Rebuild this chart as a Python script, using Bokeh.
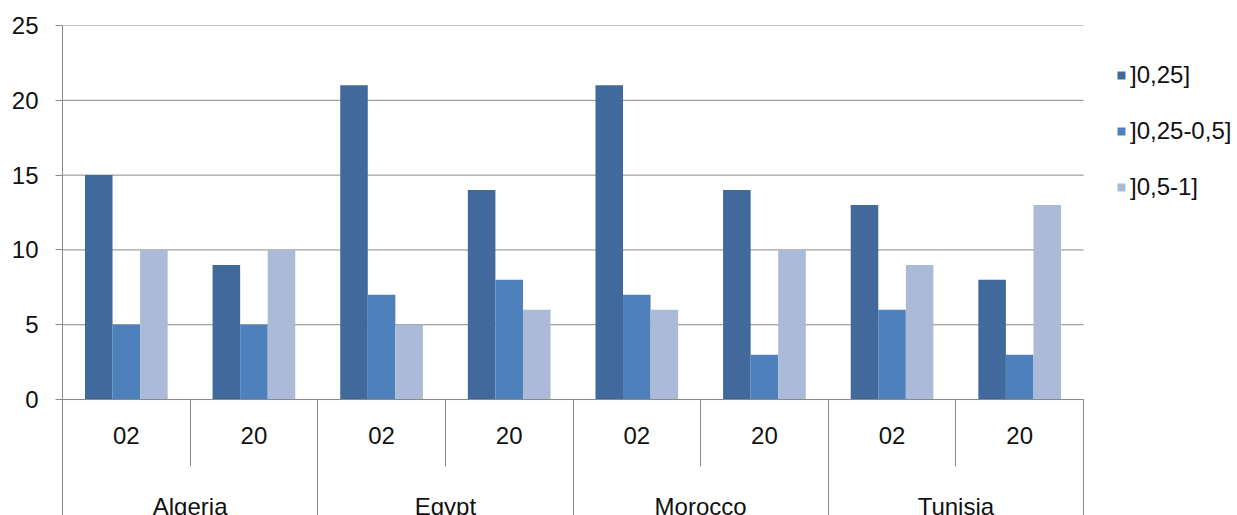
import numpy as np
from bokeh.plotting import figure
from bokeh.models import (Range1d, LinearAxis, FixedTicker, Legend, LegendItem,
                          ColumnDataSource)
from bokeh.embed import file_html
from bokeh.resources import INLINE

# ---- data ----
countries = ["Algeria", "Egypt", "Morocco", "Tunisia"]
years = ["02", "20"]
series_names = ["]0,25]", "]0,25-0,5]", "]0,5-1]"]
s_low = [15, 9, 21, 14, 21, 14, 13, 8]
s_mid = [5, 5, 7, 8, 7, 3, 6, 3]
s_high = [10, 10, 5, 6, 6, 10, 9, 13]
y_ticks = [0, 5, 10, 15, 20, 25]
colors = ["#41699B", "#4E80BC", "#AABAD7"]

FONT = "Liberation Sans"
FS = "24px"
TXT = "#111111"
GRID = "#8A8A8A"

W, H = 1237, 515
LEFT, TOP = 62, 25
PLOT_RIGHT = 1083  # where the category area ends; the rest holds the legend

n_years = len(years)
n = len(countries) * n_years
xs = np.arange(n) + 0.5
year_labels = [years[i % n_years] for i in range(n)]
country_pos = [i * n_years + n_years / 2 for i in range(len(countries))]
year_bounds = [i * n_years + 1 for i in range(len(countries))]
country_bounds = [i * n_years for i in range(len(countries) + 1)]

bw = 0.216
offsets = [-bw, 0.0, bw]

x_end = n * (W - LEFT) / (PLOT_RIGHT - LEFT)

p = figure(width=W, height=H, x_range=Range1d(0, x_end), y_range=Range1d(-7.75, 25),
           output_backend="svg", toolbar_location=None,
           x_axis_type=None, y_axis_type=None,
           min_border_left=LEFT, min_border_right=0, min_border_top=TOP, min_border_bottom=0)
p.outline_line_color = None
p.background_fill_color = "white"
p.border_fill_color = "white"

# horizontal gridlines over the category area only
p.segment(x0=[0] * len(y_ticks), x1=[n] * len(y_ticks), y0=y_ticks, y1=y_ticks,
          line_color=GRID, line_width=1)

renderers = []
for vals, off, col in zip([s_low, s_mid, s_high], offsets, colors):
    src = ColumnDataSource(dict(x=xs + off, top=vals))
    r = p.vbar(x="x", top="top", bottom=0, width=bw, source=src,
               fill_color=col, line_color=None)
    renderers.append(r)

# y axis
yticker = FixedTicker(ticks=y_ticks)
yaxis = LinearAxis(ticker=yticker, axis_line_color=GRID, major_tick_line_color=GRID,
                   major_tick_out=7, major_tick_in=0, minor_tick_out=0, minor_tick_in=0,
                   major_label_text_font=FONT, major_label_text_font_size=FS,
                   major_label_text_color=TXT, major_label_standoff=17)
p.add_layout(yaxis, "left")

def lab_axis(ticks, labels, standoff, line_color):
    return LinearAxis(ticker=FixedTicker(ticks=list(ticks)), fixed_location=0, bounds=(0, n),
                      major_label_overrides={float(x): lab for x, lab in zip(ticks, labels)},
                      axis_line_color=line_color, major_tick_out=0, major_tick_in=0,
                      minor_tick_out=0, minor_tick_in=0,
                      major_label_text_font=FONT, major_label_text_font_size=FS,
                      major_label_text_color=TXT, major_label_standoff=standoff)

def sep_axis(bounds, length):
    return LinearAxis(ticker=FixedTicker(ticks=[], minor_ticks=list(bounds)), fixed_location=0,
                      axis_line_color=None, major_tick_out=0, major_tick_in=0,
                      minor_tick_out=length, minor_tick_in=0, minor_tick_line_color=GRID)

p.add_layout(lab_axis(xs, year_labels, 27, GRID), "below")
p.add_layout(lab_axis(country_pos, countries, 93, None), "below")
p.add_layout(sep_axis(year_bounds, 67), "below")
p.add_layout(sep_axis(country_bounds, 130), "below")

legend = Legend(items=[LegendItem(label=nm, renderers=[r]) for nm, r in zip(series_names, renderers)],
                location=(1116 - LEFT, 314), glyph_width=10, glyph_height=10, label_standoff=4,
                label_height=27, spacing=28, padding=0, margin=0,
                border_line_color=None, background_fill_alpha=0,
                label_text_font=FONT, label_text_font_size=FS, label_text_color=TXT)
p.add_layout(legend, "center")

open("out.html", "w").write(file_html(p, INLINE))
